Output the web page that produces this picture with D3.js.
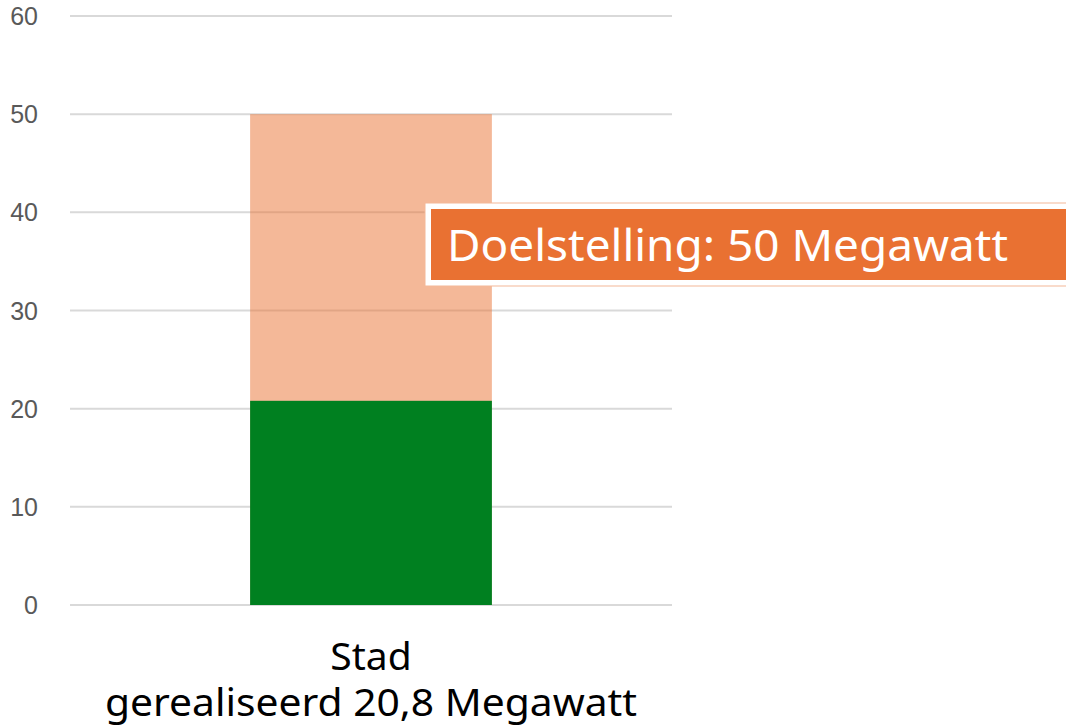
<!DOCTYPE html>
<html>
<head>
<meta charset="utf-8">
<script src="https://cdn.jsdelivr.net/npm/d3@7"></script>
<style>
  body { margin: 0; background: #fff; }
  svg { display: block; }
</style>
</head>
<body>
<svg></svg>
<script>
// chart data
let categories = ["Stad"];
let subLabels = ["gerealiseerd 20,8 Megawatt"];
let targetValues = [50];
let realisedValues = [20.8];
let yTicks = [0, 10, 20, 30, 40, 50, 60];
let calloutText = "Doelstelling: 50 Megawatt";

let width = 1066,
  height = 726;

let svg = d3.select("svg").attr("width", width).attr("height", height);

let y = d3.scaleLinear().domain([0, 60]).range([605, 16]);
let x = d3.scaleBand().domain(categories).range([70, 672])
  .paddingInner(0).paddingOuter(0.745);

// gridlines
svg.append("g")
  .selectAll("line")
  .data(yTicks)
  .enter()
  .append("line")
  .attr("x1", 70)
  .attr("x2", 672)
  .attr("y1", (d) => y(d))
  .attr("y2", (d) => y(d))
  .attr("stroke", "#d9d9d9")
  .attr("stroke-width", 2);

// y tick labels
svg.append("g")
  .selectAll("text")
  .data(yTicks)
  .enter()
  .append("text")
  .attr("x", 38)
  .attr("y", (d) => y(d) + 9)
  .attr("text-anchor", "end")
  .attr("font-family", "Liberation Sans, Arial, sans-serif")
  .attr("font-size", 25)
  .attr("fill", "#595959")
  .text((d) => d);

// target bar (semi transparent orange)
svg.append("g")
  .selectAll("rect")
  .data(categories)
  .enter()
  .append("rect")
  .attr("x", (d) => x(d))
  .attr("width", x.bandwidth())
  .attr("y", (d, i) => y(targetValues[i]))
  .attr("height", (d, i) => y(0) - y(targetValues[i]))
  .attr("fill", "#E97132")
  .attr("fill-opacity", 0.5);

// realised bar
svg.append("g")
  .selectAll("rect")
  .data(categories)
  .enter()
  .append("rect")
  .attr("x", (d) => x(d))
  .attr("width", x.bandwidth())
  .attr("y", (d, i) => y(realisedValues[i]))
  .attr("height", (d, i) => y(0) - y(realisedValues[i]))
  .attr("fill", "#008020");

// category labels (two separate lines)
let cx = (d) => x(d) + x.bandwidth() / 2;
svg.append("g")
  .selectAll("text")
  .data(categories)
  .enter()
  .append("text")
  .attr("x", cx)
  .attr("y", 670)
  .attr("text-anchor", "middle")
  .attr("font-family", "Noto Sans, sans-serif")
  .attr("font-size", 39)
  .attr("fill", "#000")
  .text((d) => d);
svg.append("g")
  .selectAll("text")
  .data(categories)
  .enter()
  .append("text")
  .attr("x", cx)
  .attr("y", 716)
  .attr("text-anchor", "middle")
  .attr("font-family", "Noto Sans, sans-serif")
  .attr("font-size", 38)
  .attr("textLength", 532)
  .attr("lengthAdjust", "spacingAndGlyphs")
  .attr("fill", "#000")
  .text((d, i) => subLabels[i]);

// callout
let callout = svg.append("g");
callout.append("rect")
  .attr("x", 425)
  .attr("y", 203)
  .attr("width", 660)
  .attr("height", 83)
  .attr("fill", "#fff")
  .attr("stroke", "#f3b797")
  .attr("stroke-width", 1);
callout.append("rect")
  .attr("x", 431)
  .attr("y", 209)
  .attr("width", 660)
  .attr("height", 71)
  .attr("fill", "#E97132");
callout.append("text")
  .attr("x", 447)
  .attr("y", 261)
  .attr("font-family", "Noto Sans, sans-serif")
  .attr("font-size", 44)
  .attr("textLength", 561)
  .attr("lengthAdjust", "spacingAndGlyphs")
  .attr("fill", "#fff")
  .text(calloutText);
</script>
</body>
</html>
